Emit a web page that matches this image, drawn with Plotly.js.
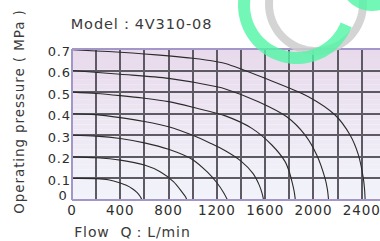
<!DOCTYPE html>
<html>
<head>
<meta charset="utf-8">
<script src="https://cdn.plot.ly/plotly-3.0.1.min.js"></script>
<style>
html,body{margin:0;padding:0;background:#fff;}
#chart{width:380px;height:241px;}
#chart svg text{letter-spacing:0.9px;}
</style>
</head>
<body>
<div id="chart"></div>
<script>
// ---- data ----
const pressureLevels = [0.1, 0.2, 0.3, 0.4, 0.5, 0.6, 0.7];
const flow01 = [0, 200, 300, 400, 450, 500, 540, 565, 580];
const p01    = [0.1, 0.099, 0.094, 0.079, 0.068, 0.052, 0.034, 0.016, 0];
const flow02 = [0, 200, 400, 600, 730, 840, 910, 940, 952];
const p02    = [0.2, 0.196, 0.185, 0.162, 0.131, 0.085, 0.038, 0.015, 0];
const flow03 = [0, 200, 400, 600, 800, 1000, 1120, 1200, 1255, 1288];
const p03    = [0.3, 0.296, 0.285, 0.265, 0.235, 0.187, 0.13, 0.08, 0.035, 0];
const flow04 = [0, 200, 400, 600, 800, 1000, 1150, 1270, 1400, 1500, 1550, 1575, 1587];
const p04    = [0.4, 0.396, 0.382, 0.364, 0.34, 0.3, 0.262, 0.228, 0.18, 0.122, 0.07, 0.03, 0];
const flow05 = [0, 200, 400, 600, 800, 1000, 1270, 1490, 1655, 1765, 1800, 1822, 1840, 1850];
const p05    = [0.5, 0.494, 0.484, 0.472, 0.456, 0.43, 0.39, 0.332, 0.255, 0.178, 0.13, 0.085, 0.04, 0];
const flow06 = [0, 400, 800, 1200, 1270, 1544, 1779, 1931, 2027, 2096, 2115, 2125];
const p06    = [0.6, 0.583, 0.564, 0.525, 0.515, 0.456, 0.386, 0.301, 0.209, 0.1, 0.05, 0];
const flow07 = [0, 200, 400, 600, 800, 1000, 1200, 1270, 1600, 1958, 2179, 2303, 2372, 2413, 2423, 2428];
const p07    = [0.697, 0.691, 0.685, 0.677, 0.668, 0.657, 0.641, 0.633, 0.564, 0.479, 0.394, 0.301, 0.209, 0.1, 0.05, 0];
const xTickVals = [0, 400, 800, 1200, 1600, 2000, 2400];
const xTickText = ['0', '400', '800', '1200', '1600', '2000', '2400'];
const yTickVals = [0.1, 0.2, 0.3, 0.4, 0.5, 0.6, 0.7];
const yTickText = ['0.1', '0.2', '0.3', '0.4', '0.5', '0.6', '0.7'];
const yZeroLabel = '0';
const titleText = 'Model：4V310-08';
const xTitleText = 'Flow  Q：L/min';
const yTitleText = 'Operating pressure ( MPa )';

const flows = [flow01, flow02, flow03, flow04, flow05, flow06, flow07];
const pressures = [p01, p02, p03, p04, p05, p06, p07];

// ---- layout geometry ----
const W = 380, H = 241, L = 72, R = 0, T = 49, B = 41;
const pw = W - L - R, ph = H - T - B;
const px2x = px => (px - L) / pw;
const py2y = py => (H - B - py) / ph;

const traces = flows.map((f, i) => ({
  x: f, y: pressures[i], type: 'scatter', mode: 'lines',
  line: {color: '#2b2b2b', width: 1.1, shape: 'spline', smoothing: 0.8},
  hoverinfo: 'skip', showlegend: false, name: pressureLevels[i] + ' MPa'
}));

// background gradient bands
const shapes = [];
const topC = [232, 218, 236], botC = [242, 244, 250];
const nb = 30;
for (let i = 0; i < nb; i++) {
  const t = i / (nb - 1);
  const c = topC.map((v, k) => Math.round(v + (botC[k] - v) * t));
  shapes.push({type: 'rect', xref: 'paper', yref: 'paper', layer: 'below',
    x0: 0, x1: 1, y0: 1 - (i + 1) / nb, y1: 1 - i / nb,
    fillcolor: `rgb(${c[0]},${c[1]},${c[2]})`, line: {width: 0}});
}
// frame (left, top, bottom)
const frameColor = '#a397c9';
shapes.push({type: 'line', xref: 'paper', yref: 'paper', x0: 0, x1: 0, y0: 0, y1: 1, line: {color: frameColor, width: 2}});
shapes.push({type: 'line', xref: 'paper', yref: 'paper', x0: 0, x1: 1, y0: 1, y1: 1, line: {color: frameColor, width: 2}});
shapes.push({type: 'line', xref: 'paper', yref: 'paper', x0: 0, x1: 1, y0: 0, y1: 0, line: {color: frameColor, width: 2}});

// watermark logo arcs
function arcPath(cx, cy, r, a0, a1) {
  let s = '';
  const n = 40;
  for (let i = 0; i <= n; i++) {
    const a = (a0 + (a1 - a0) * i / n) * Math.PI / 180;
    const x = px2x(cx + r * Math.cos(a)), y = py2y(cy + r * Math.sin(a));
    s += (i === 0 ? 'M' : 'L') + x.toFixed(4) + ',' + y.toFixed(4);
  }
  return s;
}
shapes.push({type: 'path', xref: 'paper', yref: 'paper', path: arcPath(316, 4, 47, 195, -10),
  line: {color: 'rgba(205,205,205,0.85)', width: 8}});
shapes.push({type: 'path', xref: 'paper', yref: 'paper', path: arcPath(297, 5, 53, 200, 22),
  line: {color: 'rgba(80,245,165,0.8)', width: 12}});
shapes.push({type: 'path', xref: 'paper', yref: 'paper', path: arcPath(372, -22, 27, 160, 60),
  line: {color: 'rgba(80,245,165,0.8)', width: 12}});

const gridC = '#5e5a63';
const font = 'DejaVu Sans, Verdana, sans-serif';
const layout = {
  width: W, height: H,
  margin: {l: L, r: R, t: T, b: B, pad: 0},
  paper_bgcolor: '#ffffff', plot_bgcolor: 'rgba(0,0,0,0)',
  font: {family: font, size: 13, color: '#333'},
  xaxis: {range: [0, 2551], tickmode: 'array', tickvals: xTickVals, ticktext: xTickText,
    showgrid: true, gridcolor: gridC, gridwidth: 2, zeroline: false, showline: false,
    ticks: '', ticklen: 0, tickfont: {size: 13.5, color: '#2e2e2e', family: font},
    minor: {tickmode: 'linear', tick0: 200, dtick: 400, showgrid: true, gridcolor: gridC, gridwidth: 2, ticks: ''},
    fixedrange: true},
  yaxis: {range: [0, 0.7], tickmode: 'array', tickvals: yTickVals, ticktext: yTickText,
    showgrid: true, gridcolor: gridC, gridwidth: 2, zeroline: false, showline: false,
    ticks: '', ticklabelshift: 2, tickfont: {size: 13, color: '#2e2e2e', family: font}, fixedrange: true},
  shapes: shapes,
  annotations: [
    {text: titleText, xref: 'paper', yref: 'paper', x: px2x(75), y: py2y(24), xanchor: 'left', yanchor: 'middle',
      showarrow: false, font: {size: 14.5, color: '#3a3a3a', family: font}},
    {text: xTitleText, xref: 'paper', yref: 'paper', x: px2x(78), y: py2y(232), xanchor: 'left', yanchor: 'middle',
      showarrow: false, font: {size: 14, color: '#3a3a3a', family: font}},
    {text: yTitleText, xref: 'paper', yref: 'paper', x: px2x(19), y: py2y(112), xanchor: 'center', yanchor: 'middle',
      textangle: -90, showarrow: false, font: {size: 13.5, color: '#3a3a3a', family: font}},
    {text: yZeroLabel, xref: 'paper', yref: 'paper', x: px2x(69), y: py2y(195), xanchor: 'right', yanchor: 'middle',
      showarrow: false, font: {size: 13, color: '#2e2e2e', family: font}}
  ]
};

Plotly.newPlot('chart', traces, layout, {staticPlot: true, displayModeBar: false});
</script>
</body>
</html>
